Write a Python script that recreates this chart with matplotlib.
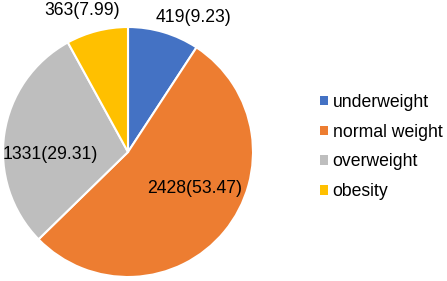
import matplotlib
matplotlib.use("Agg")
import matplotlib.pyplot as plt
from matplotlib.patches import Patch

categories = ["underweight", "normal weight", "overweight", "obesity"]
counts = [419, 2428, 1331, 363]
percents = [9.23, 53.47, 29.31, 7.99]
colors = ["#4472C4", "#ED7D31", "#BEBEBE", "#FFC000"]

W, H = 447, 281
fig = plt.figure(figsize=(W / 100, H / 100), dpi=100)
plt.rcParams['font.family'] = ['Liberation Sans', 'DejaVu Sans']

# pie axes: center (128,152) px, radius 125 px
cx, cy, r = 128, 152, 125
ax = fig.add_axes([(cx - r) / W, (H - cy - r) / H, 2 * r / W, 2 * r / H])
ax.set_xlim(-1, 1)
ax.set_ylim(-1, 1)
ax.axis("off")

wedges, _ = ax.pie(counts, colors=colors, startangle=90, counterclock=False,
                   radius=1, wedgeprops=dict(edgecolor="white", linewidth=1.5))
ax.set_xlim(-1, 1)
ax.set_ylim(-1, 1)

label_pos = [(0.52, 1.08), (0.53, -0.29), (-0.62, -0.02), (-0.37, 1.13)]
for (x, y), c, p in zip(label_pos, counts, percents):
    ax.text(x, y, f"{c}({p:.2f})", ha="center", va="center", fontsize=12.7,
            color="#000000", clip_on=False)

handles = [Patch(facecolor=col, edgecolor="none") for col in colors]
fig.legend(handles, categories, loc="center left",
           bbox_to_anchor=(311 / W, 1 - 147 / H), frameon=False,
           fontsize=12.7, handlelength=0.45, handleheight=0.45,
           handletextpad=0.28, labelspacing=0.72, borderpad=0)

fig.savefig("out.png", dpi=100)
